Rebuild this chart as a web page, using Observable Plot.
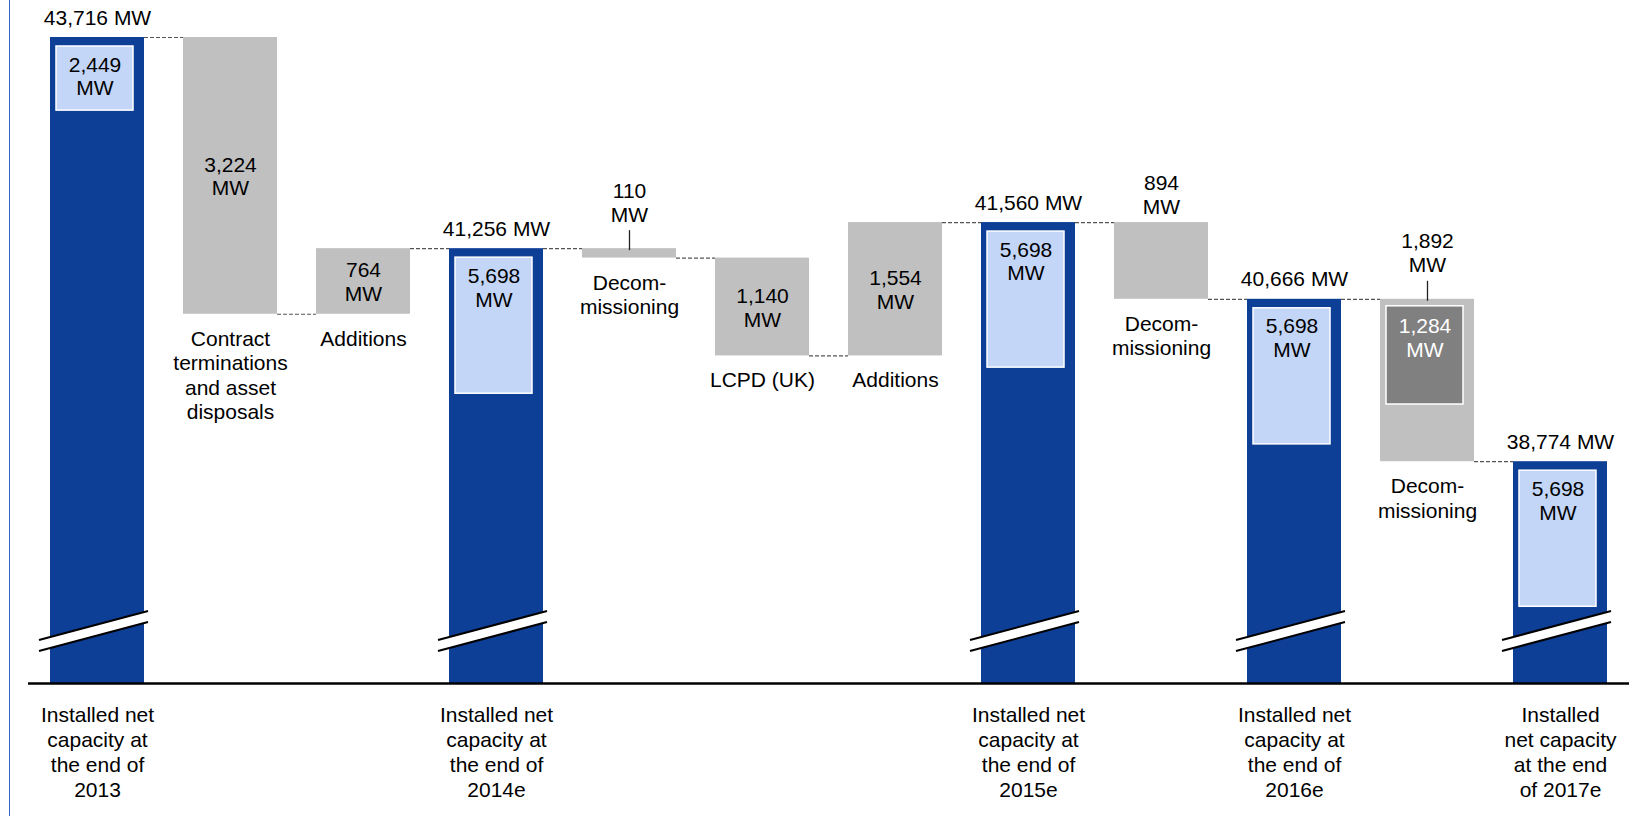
<!DOCTYPE html>
<html><head><meta charset="utf-8">
<script src="https://cdn.jsdelivr.net/npm/d3@7"></script>
<script src="https://cdn.jsdelivr.net/npm/@observablehq/plot@0.6"></script>
<style>
html,body{margin:0;padding:0;background:#fff;}
#wrap{position:relative;width:1640px;height:816px;overflow:hidden;background:#fff;}
#chart{position:absolute;left:0;top:0;}
#border{position:absolute;left:9px;top:0;width:0;height:816px;border-left:1.5px solid #3a66c4;}
</style></head><body>
<div id="wrap"><div id="chart"></div><div id="border"></div></div>
<script>
// ---- data ----
const steps = ["end2013", "terminations", "additions2014", "end2014e", "decom2015", "lcpd", "additions2015", "end2015e", "decom2016", "end2016e", "decom2017", "end2017e"];
const stepLabels = [
  "Installed net\ncapacity at\nthe end of\n2013",
  "Contract\nterminations\nand asset\ndisposals",
  "Additions",
  "Installed net\ncapacity at\nthe end of\n2014e",
  "Decom-\nmissioning",
  "LCPD (UK)",
  "Additions",
  "Installed net\ncapacity at\nthe end of\n2015e",
  "Decom-\nmissioning",
  "Installed net\ncapacity at\nthe end of\n2016e",
  "Decom-\nmissioning",
  "Installed\nnet capacity\nat the end\nof 2017e"
];
const stepKinds = ["total", "change", "change", "total", "change", "change", "change", "total", "change", "total", "change", "total"];
const stepValues = [43716, -3224, 764, 41256, -110, -1140, 1554, 41560, -894, 40666, -1892, 38774];
const highlightValues = [2449, null, null, 5698, null, null, null, 5698, null, 5698, 1284, 5698];
const axisFloor = 36190; // value at the broken baseline
const unitLabel = "MW";

// ---- derived rows ----
const fmt = d3.format(",");
let level = 0;
const rows = steps.map((id, i) => {
  const kind = stepKinds[i], v = stepValues[i];
  let from, to, y1, y2;
  if (kind === "total") { from = v; to = v; y1 = axisFloor; y2 = v; }
  else { from = level; to = level + v; y1 = Math.min(from, to); y2 = Math.max(from, to); }
  level = to;
  return {i, id, kind, value: v, label: stepLabels[i], from, to, y1, y2, top: y2, bottom: y1, highlight: highlightValues[i]};
});
const totals = rows.filter(d => d.kind === "total");
const changes = rows.filter(d => d.kind === "change");
const connectors = rows.slice(0, -1).map((d, i) => ({x1: d.id, x2: rows[i + 1].id, y: d.to}));

// placement rules (code, not data)
const aboveIdx = new Set([4, 8, 10]);
const leaderIdx = new Set([4, 10]);
const insideChanges = changes.filter(d => !aboveIdx.has(d.i));
const aboveChanges = changes.filter(d => aboveIdx.has(d.i) && !leaderIdx.has(d.i));
const leaderChanges = changes.filter(d => leaderIdx.has(d.i));
const totalBoxes = totals.filter(d => d.highlight != null);
const changeBoxes = changes.filter(d => d.highlight != null);
const boxDepth = v => 220 + 0.258 * v; // compressed detail scale for the highlighted share

const DARK = "#0d3f97", GRAY = "#c0c0c0", LIGHT = "#c3d6f7", DARKGRAY = "#808080";
const FS = 21;
const font = "'Liberation Sans', Arial, Helvetica, sans-serif";

function breaks(index, scales, values, dimensions) {
  const x = scales.x;
  const bw = x.bandwidth();
  const base = dimensions.height - dimensions.marginBottom;
  const g = d3.create("svg:g");
  for (const d of totals) {
    const xa = x(d.id) - 11, xb = x(d.id) + bw + 4;
    const ua = base - 43, ub = base - 72, la = base - 32, lb = base - 61;
    g.append("polygon").attr("points", `${xa},${ua} ${xb},${ub} ${xb},${lb} ${xa},${la}`).attr("fill", "white");
    g.append("line").attr("x1", xa).attr("y1", ua).attr("x2", xb).attr("y2", ub).attr("stroke", "black").attr("stroke-width", 2);
    g.append("line").attr("x1", xa).attr("y1", la).attr("x2", xb).attr("y2", lb).attr("stroke", "black").attr("stroke-width", 2);
  }
  return g.node();
}

const chart = Plot.plot({
  width: 1640,
  height: 816,
  marginTop: 37,
  marginBottom: 133,
  marginLeft: 28,
  marginRight: 11,
  x: {domain: steps, paddingInner: 0.295, paddingOuter: 0.15, axis: null},
  y: {domain: [axisFloor, d3.max(stepValues)], axis: null},
  style: {fontFamily: font, fontSize: FS + "px", background: "transparent", color: "black", overflow: "visible"},
  marks: [
    Plot.ruleY(connectors, {x1: "x1", x2: "x2", y: "y", insetLeft: 94, insetRight: 94, stroke: "#555", strokeWidth: 1.2, strokeDasharray: "4,2"}),
    Plot.barY(totals, {x: "id", y1: "y1", y2: "y2", fill: DARK}),
    Plot.barY(changes, {x: "id", y1: "y1", y2: "y2", fill: GRAY}),
    Plot.barY(totalBoxes, {x: "id", y1: d => d.value - boxDepth(d.highlight), y2: "value", insetTop: 9, insetLeft: 6, insetRight: 11, fill: LIGHT, stroke: "white", strokeWidth: 1.5}),
    Plot.barY(changeBoxes, {x: "id", y1: d => d.top - d.highlight, y2: "top", insetTop: 7, insetBottom: 5, insetLeft: 6, insetRight: 11, fill: DARKGRAY, stroke: "white", strokeWidth: 1.5}),
    breaks,
    Plot.ruleY([axisFloor], {stroke: "black", strokeWidth: 2.5}),
    Plot.ruleX(leaderChanges, {x: "id", y1: "top", y2: "top", insetTop: 2, insetBottom: 18, stroke: "#222", strokeWidth: 1.3}),
    // total labels above bars
    Plot.text(totals, {x: "id", y: "value", text: d => `${fmt(d.value)} ${unitLabel}`, dy: -13, lineAnchor: "bottom", fontSize: FS, fill: "black"}),
    // highlighted share labels
    Plot.text(totalBoxes, {x: "id", y: "value", text: d => `${fmt(d.highlight)}\n${unitLabel}`, dy: 17, dx: -2.5, lineAnchor: "top", lineHeight: 1.14, fontSize: FS, fill: "black"}),
    Plot.text(changeBoxes, {x: "id", y: "top", text: d => `${fmt(d.highlight)}\n${unitLabel}`, dy: 17, dx: -2.5, lineAnchor: "top", lineHeight: 1.14, fontSize: FS, fill: "white"}),
    // change values
    Plot.text(insideChanges, {x: "id", y: d => (d.y1 + d.y2) / 2, text: d => `${fmt(Math.abs(d.value))}\n${unitLabel}`, lineAnchor: "middle", lineHeight: 1.14, fontSize: FS, fill: "black"}),
    Plot.text(aboveChanges, {x: "id", y: "top", text: d => `${fmt(Math.abs(d.value))}\n${unitLabel}`, dy: -9, lineAnchor: "bottom", lineHeight: 1.14, fontSize: FS, fill: "black"}),
    Plot.text(leaderChanges, {x: "id", y: "top", text: d => `${fmt(Math.abs(d.value))}\n${unitLabel}`, dy: -27, lineAnchor: "bottom", lineHeight: 1.14, fontSize: FS, fill: "black"}),
    // category labels
    Plot.text(changes, {x: "id", y: "bottom", text: "label", dy: 14, lineAnchor: "top", lineHeight: 1.17, fontSize: FS, fill: "black"}),
    Plot.text(totals, {x: "id", frameAnchor: "bottom", text: "label", dy: 21, lineAnchor: "top", lineHeight: 1.19, fontSize: FS, fill: "black"})
  ]
});
document.getElementById("chart").appendChild(chart);
</script>
</body></html>
